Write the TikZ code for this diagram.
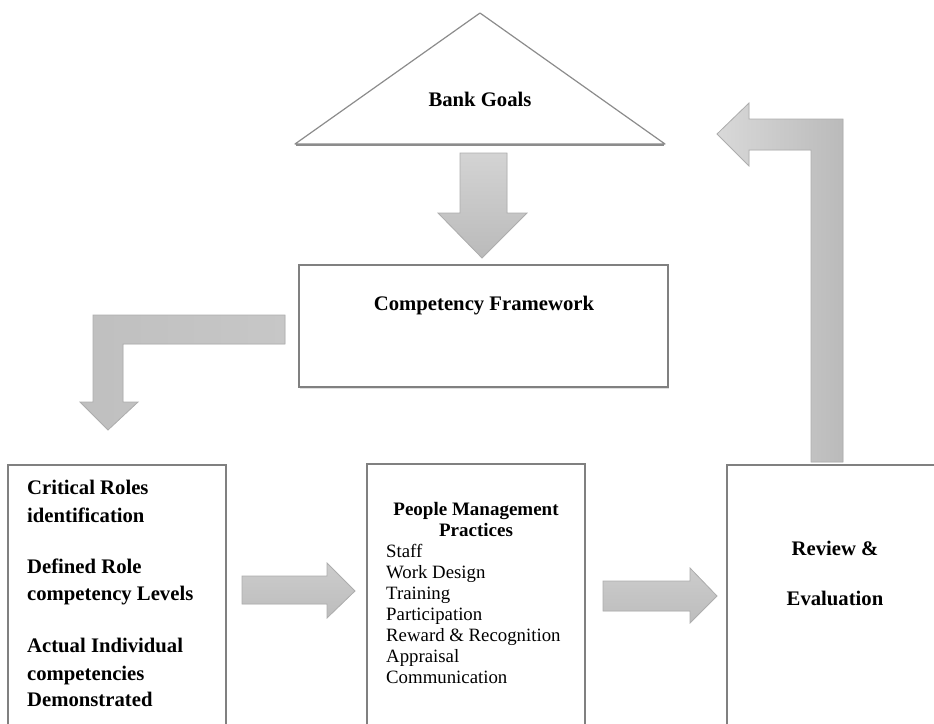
\documentclass[tikz,border=0pt]{standalone}
\usepackage{fontspec}
\setmainfont{Liberation Serif}
\usetikzlibrary{shadows}
\begin{document}
\begin{tikzpicture}[x=1pt,y=-1pt,
  boxline/.style={draw=black!50, line width=1.2pt, fill=white},
  blockarrow/.style={draw=black!32, line width=0.8pt, fill=black!23},
  headtxt/.style={font=\fontsize{20.7}{24}\selectfont\bfseries, inner sep=0pt},
  midhead/.style={font=\fontsize{19}{21}\selectfont\bfseries, inner sep=0pt},
  listtxt/.style={font=\fontsize{18.8}{21}\selectfont, inner sep=0pt, anchor=base west},
  lefttxt/.style={font=\fontsize{20.7}{24}\selectfont\bfseries, inner sep=0pt, anchor=base west}]
\useasboundingbox (0,0) rectangle (934,723);
\clip (0,0) rectangle (934,723);
\fill[white] (0,0) rectangle (934,723);

% Bank goals triangle
\draw[draw=black!45, line width=1.2pt, line join=round] (295,144) -- (480,13) -- (665,144) -- cycle;
\draw[draw=black!45, line width=2.2pt] (296,145) -- (664,145);
\node[headtxt, anchor=base] (bank) at (480,106) {Bank Goals};

% down arrow
\draw[blockarrow, top color=black!17, bottom color=black!27] (460,153) -- (507,153) -- (507,213) -- (527,213) -- (482,258) -- (438,213) -- (460,213) -- cycle;

% Competency framework box
\draw[boxline, drop shadow={opacity=0.25, shadow xshift=1pt, shadow yshift=-2pt}] (299,265) rectangle (668,387);
\node[headtxt, anchor=base] (comp) at (484,310) {Competency Framework};

% L-arrow to the left box
\draw[blockarrow, left color=black!25, right color=black!22] (285,315) -- (93,315) -- (93,402) -- (80,402) -- (108,430) -- (138,402) -- (123,402) -- (123,344) -- (285,344) -- cycle;

% Left box
\draw[boxline] (8,465) rectangle (226,760);
\node[lefttxt] (l1) at (27,494) {Critical Roles};
\node[lefttxt] (l2) at (27,522) {identification};
\node[lefttxt] (l3) at (27,573) {Defined Role};
\node[lefttxt] (l4) at (27,600) {competency Levels};
\node[lefttxt] (l5) at (27,652) {Actual Individual};
\node[lefttxt] (l6) at (27,680) {competencies};
\node[lefttxt] (l7) at (27,706) {Demonstrated};

% arrow left -> middle
\draw[blockarrow, top color=black!20, bottom color=black!26] (242,576) -- (327,576) -- (327,563) -- (355,591) -- (327,618) -- (327,604) -- (242,604) -- cycle;

% Middle box
\draw[boxline] (367,464) rectangle (585,760);
\node[midhead, anchor=base] (m0) at (476,515) {People Management};
\node[midhead, anchor=base] (m1) at (476,536) {Practices};
\node[listtxt] (p1) at (386,557) {Staff};
\node[listtxt] (p2) at (386,578) {Work Design};
\node[listtxt] (p3) at (386,599) {Training};
\node[listtxt] (p4) at (386,620) {Participation};
\node[listtxt] (p5) at (386,641) {Reward \& Recognition};
\node[listtxt] (p6) at (386,662) {Appraisal};
\node[listtxt] (p7) at (386,683) {Communication};

% arrow middle -> right
\draw[blockarrow, top color=black!20, bottom color=black!26] (603,581) -- (690,581) -- (690,568) -- (717,596) -- (690,623) -- (690,611) -- (603,611) -- cycle;

% Review box
\draw[boxline] (727,465) rectangle (960,760);
\node[headtxt, anchor=base] (r1) at (835,555) {Review \&};
\node[headtxt, anchor=base] (r2) at (835,605) {Evaluation};

% up L-arrow back to goals
\draw[blockarrow, left color=black!15, right color=black!27] (811,462) -- (811,150) -- (749,150) -- (749,166) -- (717,134) -- (749,103) -- (749,119) -- (843,119) -- (843,462) -- cycle;
\end{tikzpicture}
\end{document}
